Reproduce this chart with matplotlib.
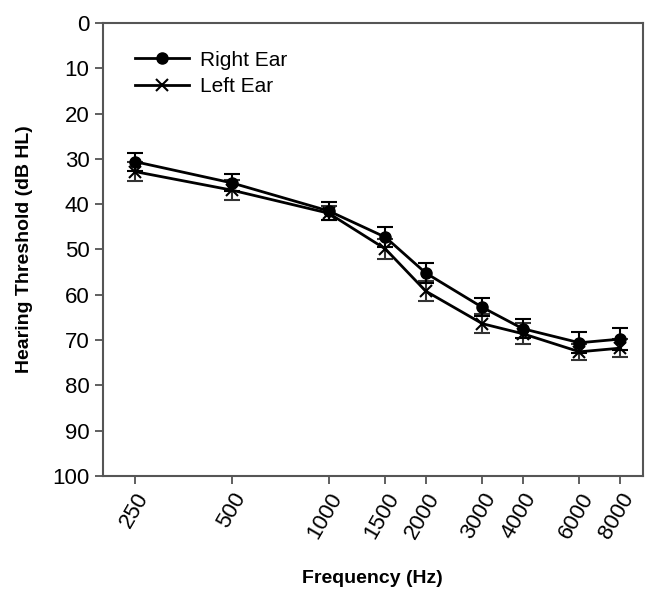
import matplotlib.pyplot as plt
from matplotlib.lines import Line2D
from matplotlib.ticker import FixedLocator, NullLocator

plt.rcParams['font.family'] = ['Liberation Sans', 'DejaVu Sans']

freqs = [250, 500, 1000, 1500, 2000, 3000, 4000, 6000, 8000]
freq_labels = ['250', '500', '1000', '1500', '2000', '3000', '4000', '6000', '8000']

right_ear = [30.6, 35.3, 41.5, 47.3, 55.2, 62.8, 67.5, 70.6, 69.8]
right_err = [2.0, 1.9, 1.9, 2.2, 2.2, 2.0, 2.1, 2.3, 2.4]
left_ear = [32.8, 36.9, 42.0, 49.9, 59.2, 66.4, 68.6, 72.6, 71.8]
left_err = [2.0, 2.2, 1.6, 2.1, 2.2, 2.1, 2.3, 1.7, 2.0]

fig = plt.figure(figsize=(6.46, 5.89), dpi=100)
ax = fig.add_axes([0.159, 0.192, 0.836, 0.769])

ax.errorbar(freqs, right_ear, yerr=right_err, color='black', marker='o',
            markersize=8, linewidth=2, elinewidth=1.5, capsize=6,
            capthick=1.5, zorder=3)
ax.errorbar(freqs, left_ear, yerr=left_err, color='black', ecolor='#333333',
            marker='x', markersize=8, markeredgewidth=1.5, linewidth=2,
            elinewidth=1.5, capsize=6, capthick=1.5, zorder=2)

ax.set_xscale('log')
ax.set_xlim(199, 9430)
ax.xaxis.set_major_locator(FixedLocator(freqs))
ax.xaxis.set_minor_locator(NullLocator())
ax.set_xticklabels(freq_labels, rotation=60, ha='right', rotation_mode='anchor')

ax.set_ylim(100, 0)
ax.set_yticks(range(0, 101, 10))

for s in ax.spines.values():
    s.set_color('#555555')
    s.set_linewidth(1.5)
ax.tick_params(direction='out', length=6, width=1.2, color='#444444',
               labelsize=16, top=False, right=False)

ax.set_xlabel('Frequency (Hz)', fontsize=14, fontweight='bold', labelpad=20)
ax.set_ylabel('Hearing Threshold (dB HL)', fontsize=14, fontweight='bold',
              labelpad=14)

handles = [
    Line2D([], [], color='black', marker='o', markersize=8, linewidth=2),
    Line2D([], [], color='black', marker='x', markersize=8,
           markeredgewidth=1.5, linewidth=2),
]
ax.legend(handles, ['Right Ear', 'Left Ear'], loc='upper left',
          bbox_to_anchor=(0.025, 0.98), frameon=False, fontsize=15,
          handlelength=2.6, handletextpad=0.5, labelspacing=0.35)

fig.savefig('out.png', dpi=100)
